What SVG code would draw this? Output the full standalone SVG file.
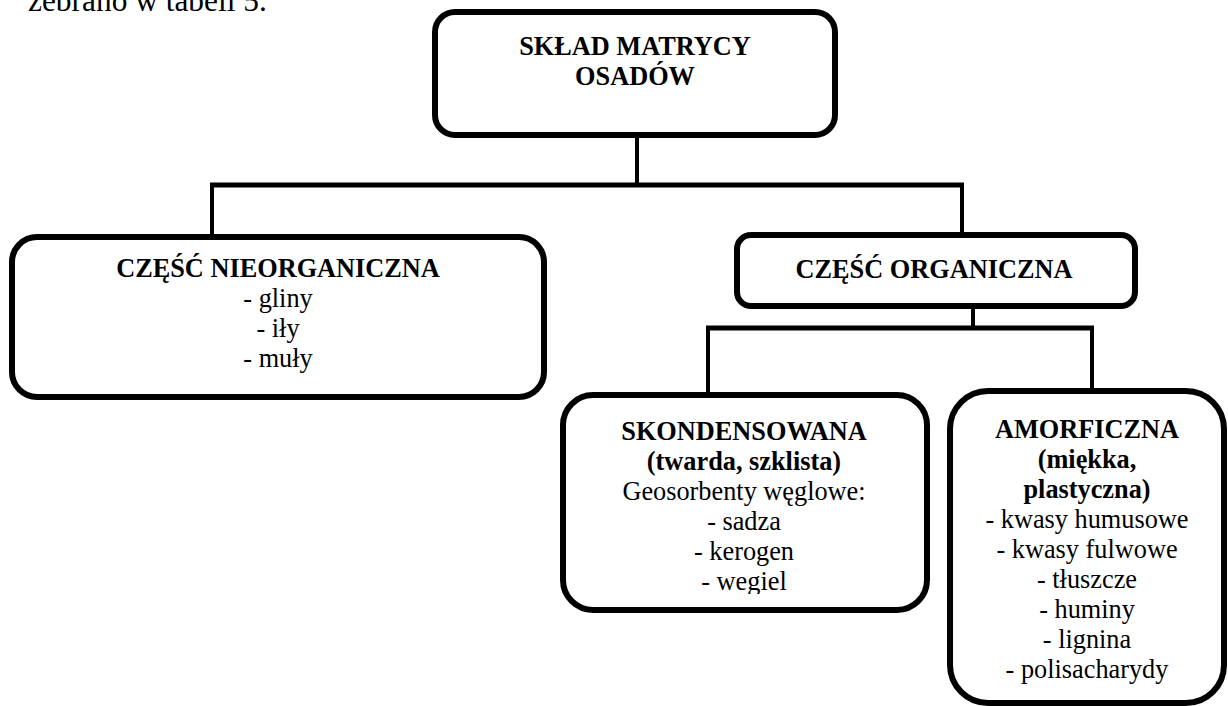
<svg xmlns="http://www.w3.org/2000/svg" width="1228" height="706" viewBox="0 0 1228 706">
  <style>
    .box { fill: #ffffff; stroke: #000000; stroke-width: 6; }
    .link { fill: none; stroke: #000000; stroke-width: 4; stroke-linecap: butt; }
    .bar { stroke-width: 5; }
    text { font-family: "Liberation Serif", "Times New Roman", serif; fill: #000000; text-anchor: middle; }
    .head { font-weight: bold; font-size: 26.3px; }
    .item { font-size: 26.3px; }
    .body { font-size: 31.4px; text-anchor: start; }
  </style>
  <defs>
    <clipPath id="clip-skond">
      <rect x="560" y="390" width="380" height="204"/>
    </clipPath>
  </defs>

  <!-- running text above the chart, cut at the page edge -->
  <text class="body" x="28" y="11">zebrano w tabeli 5.</text>

  <!-- connectors -->
  <g id="connectors">
    <path class="link" d="M637 135 V185"/>
    <path class="link bar" d="M210 185 H964"/>
    <path class="link" d="M212 185 V237"/>
    <path class="link" d="M962 185 V235"/>
    <path class="link" d="M973 306 V328"/>
    <path class="link bar" d="M706 328 H1094"/>
    <path class="link" d="M708 328 V395"/>
    <path class="link" d="M1092 328 V391"/>
  </g>

  <!-- root -->
  <g id="node-sklad">
    <rect class="box" x="435" y="12" width="400" height="123" rx="20" ry="20"/>
    <text class="head" x="635" y="55">SKŁAD MATRYCY</text>
    <text class="head" x="635" y="85">OSADÓW</text>
  </g>

  <!-- inorganic part -->
  <g id="node-nieorganiczna">
    <rect class="box" x="12" y="237" width="532" height="160" rx="25" ry="25"/>
    <text class="head" x="278" y="277">CZĘŚĆ NIEORGANICZNA</text>
    <text class="item" x="278" y="307">- gliny</text>
    <text class="item" x="278" y="337">- iły</text>
    <text class="item" x="278" y="367">- muły</text>
  </g>

  <!-- organic part -->
  <g id="node-organiczna">
    <rect class="box" x="737" y="235" width="398" height="71" rx="14" ry="14"/>
    <text class="head" x="934" y="278">CZĘŚĆ ORGANICZNA</text>
  </g>

  <!-- condensed organic matter -->
  <g id="node-skondensowana">
    <rect class="box" x="563" y="395" width="364" height="215" rx="30" ry="30"/>
    <g clip-path="url(#clip-skond)">
      <text class="head" x="744" y="440">SKONDENSOWANA</text>
      <text class="head" x="744" y="470">(twarda, szklista)</text>
      <text class="item" x="744" y="500">Geosorbenty węglowe:</text>
      <text class="item" x="744" y="530">- sadza</text>
      <text class="item" x="744" y="560">- kerogen</text>
      <text class="item" x="744" y="590">- wegiel</text>
    </g>
  </g>

  <!-- amorphous organic matter -->
  <g id="node-amorficzna">
    <rect class="box" x="950" y="391" width="274" height="312" rx="38" ry="38"/>
    <text class="head" x="1087" y="438">AMORFICZNA</text>
    <text class="head" x="1087" y="468">(miękka,</text>
    <text class="head" x="1087" y="498">plastyczna)</text>
    <text class="item" x="1087" y="528">- kwasy humusowe</text>
    <text class="item" x="1087" y="558">- kwasy fulwowe</text>
    <text class="item" x="1087" y="588">- tłuszcze</text>
    <text class="item" x="1087" y="618">- huminy</text>
    <text class="item" x="1087" y="648">- lignina</text>
    <text class="item" x="1087" y="678">- polisacharydy</text>
  </g>
</svg>
